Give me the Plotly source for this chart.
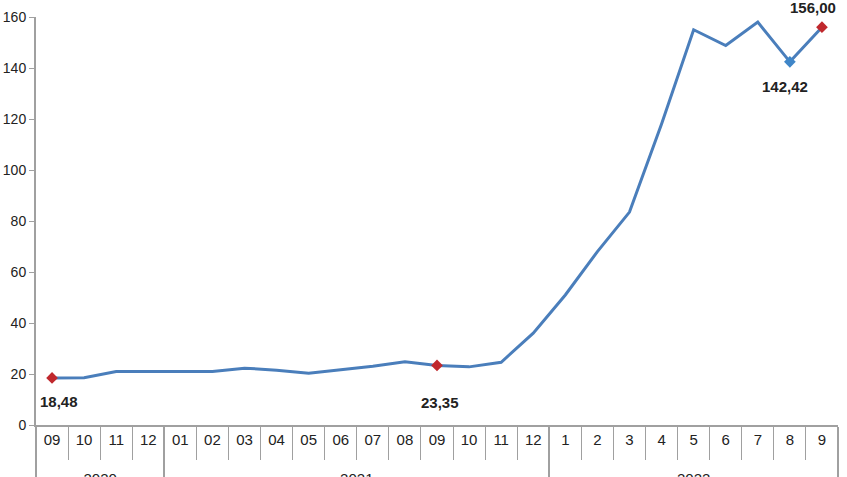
import plotly.graph_objects as go

ZW = "\u200b"  # keeps 2020 month labels distinct from 2021 ones (same look)
years = ["2020"] * 4 + ["2021"] * 12 + ["2022"] * 9
months = ["09" + ZW, "10" + ZW, "11" + ZW, "12" + ZW,
          "01", "02", "03", "04", "05", "06", "07", "08", "09", "10", "11", "12",
          "1", "2", "3", "4", "5", "6", "7", "8", "9"]
values = [18.48, 18.5, 21.0, 21.0,
          21.0, 21.0, 22.3, 21.5, 20.3, 21.6, 23.0, 24.8, 23.35, 22.8, 24.6, 36.0,
          51.0, 68.0, 83.5, 118.0, 155.0, 148.8, 158.0, 142.42, 156.00]

hl_idx = [0, 12, 23, 24]
hl_colors = ["#c0282d", "#c0282d", "#3f86c8", "#c0282d"]
hl_text = ["18,48", "23,35", "142,42", "156,00"]
hl_dx = [7, 3, -5, -9]
hl_dy = [-24, -37, -25, 20]

font_fam = "Liberation Sans Narrow, Arial Narrow, Liberation Sans, Arial, sans-serif"
year_labels = ["<br>" + y for y in years]

fig = go.Figure()
fig.add_trace(go.Scatter(
    x=[year_labels, months], y=values, mode="lines",
    line=dict(color="#4a7ebb", width=3), hoverinfo="skip", showlegend=False,
))
fig.add_trace(go.Scatter(
    x=[[year_labels[i] for i in hl_idx], [months[i] for i in hl_idx]],
    y=[values[i] for i in hl_idx],
    mode="markers",
    marker=dict(symbol="diamond", size=9, color=hl_colors),
    showlegend=False, cliponaxis=False, hoverinfo="skip",
))
for i, t, dx, dy in zip(hl_idx, hl_text, hl_dx, hl_dy):
    fig.add_annotation(
        x=i, y=values[i], text=t, showarrow=False,
        xshift=dx, yshift=dy,
        font=dict(family=font_fam, size=15, color="#222222", weight="bold"),
    )

fig.update_layout(
    width=847, height=477,
    margin=dict(l=36, r=9, t=17, b=52),
    paper_bgcolor="white", plot_bgcolor="white",
    font=dict(family=font_fam, size=14, color="#222222"),
)
fig.update_yaxes(
    range=[0, 160], tickvals=[0, 20, 40, 60, 80, 100, 120, 140, 160],
    showgrid=False, zeroline=False, showline=True, linecolor="#a0a0a0", linewidth=2,
    ticks="outside", ticklen=5, tickcolor="#a0a0a0", automargin=False,
    tickfont=dict(size=14),
)
fig.update_xaxes(
    type="multicategory", range=[-0.5, 24.5],
    showgrid=False, showline=True, linecolor="#a0a0a0", linewidth=2,
    ticks="outside", tickson="boundaries", ticklen=33, tickcolor="#a0a0a0",
    showdividers=True, dividercolor="#a0a0a0", dividerwidth=2,
    automargin=False, tickfont=dict(size=15),
)
fig.write_html("out.html", config={"displayModeBar": False},
               post_script="document.body.style.margin='0';")
